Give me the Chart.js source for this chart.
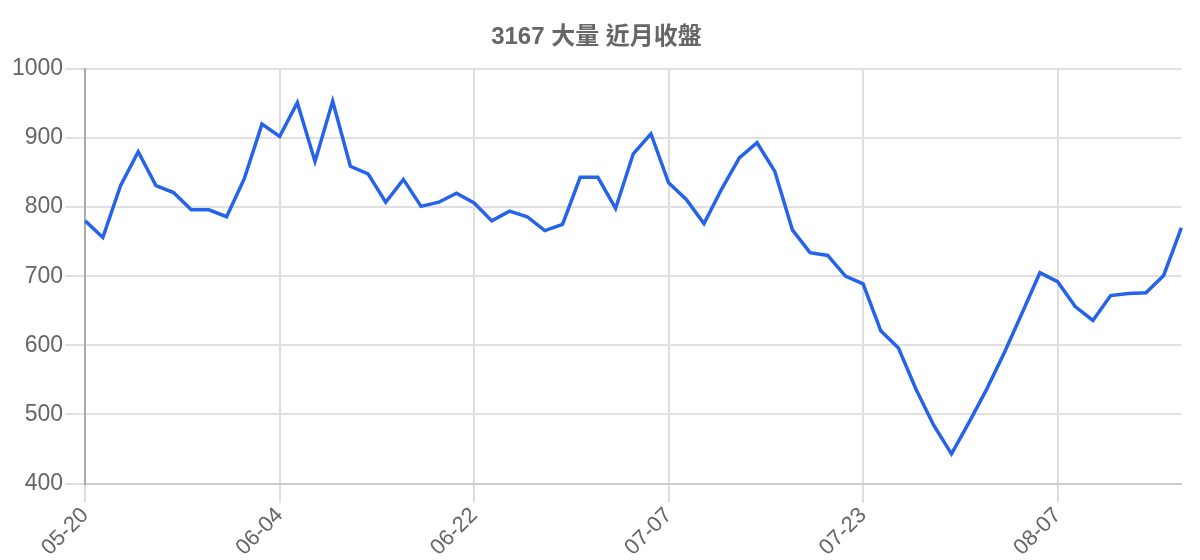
<!DOCTYPE html>
<html>
<head>
<meta charset="utf-8">
<script src="https://cdn.jsdelivr.net/npm/chart.js@4"></script>
<style>
  body { margin: 0; background: #fff; }
  #wrap { width: 1200px; height: 560px; }
</style>
</head>
<body>
<div id="wrap"><canvas id="close-chart"></canvas></div>
<script>
// trading dates (MM-DD) and closing prices
const dates = [
  '05-20', '05-21', '05-22', '05-23', '05-24', '05-27', '05-28', '05-29', '05-30', '05-31', '06-03',
  '06-04', '06-05', '06-07', '06-08', '06-11', '06-12', '06-14', '06-15', '06-18', '06-19', '06-21',
  '06-22', '06-25', '06-26', '06-27', '06-28', '06-29', '07-01', '07-02', '07-03', '07-04', '07-05',
  '07-07', '07-08', '07-09', '07-10', '07-11', '07-14', '07-15', '07-16', '07-17', '07-18', '07-21',
  '07-23', '07-24', '07-25', '07-28', '07-29', '07-30', '07-31', '08-01', '08-02', '08-04', '08-05',
  '08-07', '08-08', '08-11', '08-12', '08-13', '08-14', '08-15', '08-18'
];
const closes = [
  780, 756, 831, 880, 831, 821, 796, 796, 786, 841, 920,
  902, 951, 866, 953, 859, 848, 807, 840, 801, 807, 820,
  806, 780, 794, 786, 766, 775, 843, 843, 798, 877, 906,
  835, 811, 776, 826, 871, 893, 852, 767, 734, 730, 700,
  689, 621, 596, 536, 484, 443, 489, 537, 590, 647, 705,
  692, 656, 636, 672, 675, 676, 701, 770
];
const yTicks = [400, 500, 600, 700, 800, 900, 1000];
const labelEvery = 11; // only every 11th date gets a label and a grid line

const chart = new Chart(document.getElementById('close-chart'), {
  type: 'line',
  data: {
    labels: dates,
    datasets: [{
      label: '收盤',
      data: closes,
      borderColor: '#2563eb',
      borderWidth: 3.5,
      pointRadius: 0,
      tension: 0,
      fill: false
    }]
  },
  options: {
    responsive: true,
    maintainAspectRatio: false,
    animation: false,
    layout: { padding: { left: 10, right: 17, top: 4, bottom: -1 } },
    plugins: {
      legend: { display: false },
      tooltip: { enabled: false },
      title: {
        display: true,
        text: '3167 大量 近月收盤',
        color: '#666',
        font: { family: "'Liberation Sans', 'Noto Sans CJK TC', sans-serif", size: 24, weight: 'bold' },
        padding: { top: 19, bottom: 17 }
      }
    },
    scales: {
      x: {
        offset: false,
        grid: {
          color: (ctx) => (ctx.index % labelEvery === 0 ? '#dddddd' : 'rgba(0,0,0,0)'),
          lineWidth: 2,
          tickLength: 19
        },
        border: { color: '#cccccc', width: 2 },
        ticks: {
          autoSkip: false,
          minRotation: 45,
          maxRotation: 45,
          padding: 0,
          color: '#666',
          font: { family: "'Liberation Sans', sans-serif", size: 22 },
          callback: function (value, index) {
            return index % labelEvery === 0 ? dates[index] : '';
          }
        }
      },
      y: {
        min: yTicks[0],
        max: yTicks[yTicks.length - 1],
        afterBuildTicks: (axis) => { axis.ticks = yTicks.map((v) => ({ value: v })); },
        grid: { color: '#e0e0e0', lineWidth: 2, tickLength: 20 },
        border: { color: '#aaaaaa', width: 2 },
        ticks: {
          padding: 2,
          color: '#666',
          font: { family: "'Liberation Sans', sans-serif", size: 23 },
          callback: (value) => String(value)
        }
      }
    }
  }
});
</script>
</body>
</html>
